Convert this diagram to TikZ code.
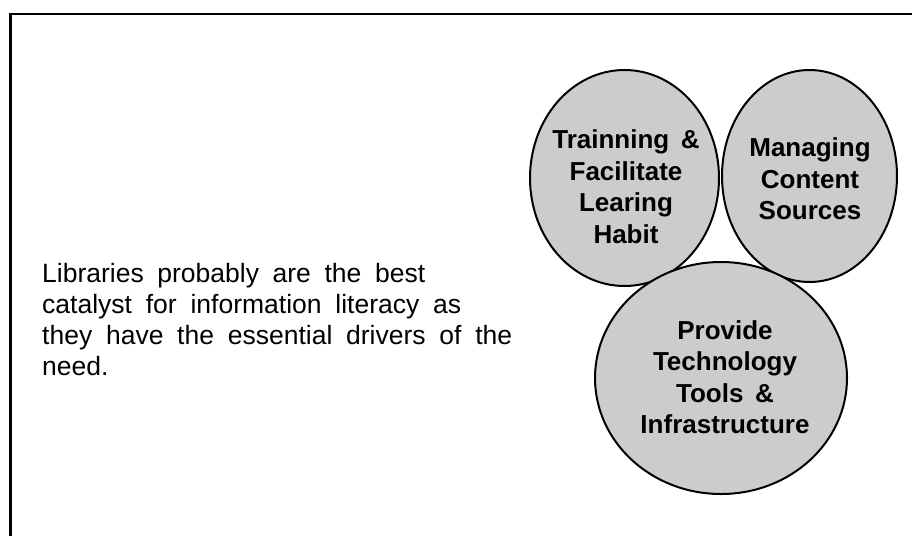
\documentclass[tikz,border=0pt]{standalone}
\usepackage{fontspec}
\setmainfont{Liberation Sans}
\usetikzlibrary{shapes.geometric}

\definecolor{bubblegray}{RGB}{204,204,204}

\begin{document}
\begin{tikzpicture}[x=1pt,y=-1pt,
    bubble/.style={ellipse, draw=black, line width=2pt, fill=bubblegray, inner sep=0pt},
    bubbletext/.style={align=center, inner sep=0pt, font=\fontsize{26}{31.5}\selectfont\bfseries},
    bodytext/.style={align=left, inner sep=0pt, font=\fontsize{26.5}{31}\selectfont}]
            \useasboundingbox (0,0) rectangle (912,536);

            % Frame, only its top and left edges are in view
            \draw[line width=2.5pt] (10.5,536) -- (10.5,14) -- (912,14);

            % Paragraph on the left
            \node[bodytext, anchor=west] (para) at (42,320)
                {\makebox[383pt][s]{Libraries probably are the best}\\
                 \makebox[419pt][s]{catalyst for information literacy as}\\
                 \makebox[470pt][s]{they have the essential drivers of the}\\
                 need.};

            % Three overlapping bubbles, the bottom one drawn last
            \node[bubble, minimum width=189pt, minimum height=216pt] (train) at (624.5,178) {};
            \node[bubble, minimum width=175pt, minimum height=212pt] (manage) at (809.5,176) {};
            \node[bubble, minimum width=252pt, minimum height=232pt] (provide) at (721,378) {};

            % Bubble labels
            \node[bubbletext] (trainTxt) at (626,186.5) {Trainning \,\&\\Facilitate\\Learing\\Habit};
            \node[bubbletext] (manageTxt) at (810,179) {Managing\\Content\\Sources};
            \node[bubbletext] (provideTxt) at (725,377) {Provide\\Technology\\Tools \,\&\\Infrastructure};

            \end{tikzpicture}
\end{document}
